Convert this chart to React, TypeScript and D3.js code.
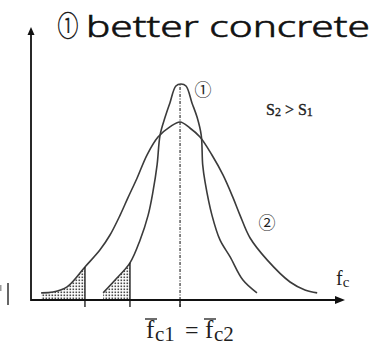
import React from 'react';
import * as d3 from 'd3';

// Concrete strength distributions: curve ① (small spread) and curve ② (large spread)
const curve1Strength = [24.2, 28.2, 33.2, 36.6, 39.3, 40.9, 42.3, 43.3, 45.0, 46.6, 48.6, 50.3, 52.0, 54.0, 55.7, 57.1, 57.6, 58.4, 60.7, 63.4, 66.8, 71.1, 75.8];
const curve1Density = [2.6, 7.3, 13.6, 22.0, 31.1, 39.6, 49.5, 60.4, 67.0, 72.2, 78.4, 79.1, 78.4, 72.2, 67.0, 60.4, 49.5, 43.2, 31.1, 22.0, 15.8, 7.3, 2.6];

const curve2Strength = [3.4, 7.4, 12.1, 18.1, 23.1, 26.5, 29.9, 32.5, 35.6, 38.9, 42.6, 46.6, 50.0, 53.3, 56.7, 60.7, 64.4, 67.8, 70.1, 73.5, 79.2, 86.9, 91.9, 96.0];
const curve2Density = [2.6, 2.9, 4.8, 12.1, 18.3, 23.8, 31.1, 37.4, 44.7, 53.1, 59.7, 63.4, 65.2, 63.0, 59.7, 53.1, 45.8, 37.4, 31.1, 22.7, 14.7, 6.6, 3.7, 2.6];

// characteristic (lower) strengths of each curve and the shared mean strength
const lowerLimit2 = 18.1;
const lowerLimit1 = 33.2;
const meanStrength = 50;

const W = 382;
const H = 348;

const x = d3.scaleLinear().domain([0, 105]).range([31, 344]);
const y = d3.scaleLinear().domain([0, 100]).range([300, 27]);

type Pt = [number, number];
const zip = (xs: number[], ys: number[]): Pt[] => xs.map((v, i) => [v, ys[i]]);

const pts1 = zip(curve1Strength, curve1Density);
const pts2 = zip(curve2Strength, curve2Density);

const line = d3
  .line<Pt>()
  .x((d) => x(d[0]))
  .y((d) => y(d[1]))
  .curve(d3.curveCatmullRom.alpha(0.5));

const area = d3
  .area<Pt>()
  .x((d) => x(d[0]))
  .y0(y(0))
  .y1((d) => y(d[1]))
  .curve(d3.curveCatmullRom.alpha(0.5));

const densityAt = (xs: number[], ys: number[], v: number) => ys[xs.indexOf(v)];

const SERIF = "'Liberation Serif', 'Times New Roman', Times, 'DejaVu Serif', serif";
const CIRCLED = "'Noto Sans CJK JP', 'DejaVu Sans', sans-serif";

export default function App() {
  const axisY = y(0);
  const curveColor = '#3b3b3b';
  const textColor = '#1e1e1e';
  const limits = [
    { v: lowerLimit2, d: densityAt(curve2Strength, curve2Density, lowerLimit2), pts: pts2, id: 'clip2' },
    { v: lowerLimit1, d: densityAt(curve1Strength, curve1Density, lowerLimit1), pts: pts1, id: 'clip1' },
  ];

  return (
    <div style={{ position: 'absolute', left: 0, top: 0 }}>
      <svg width={W} height={H} style={{ display: 'block', background: '#fff' }}>
        <defs>
          <pattern id="stipple" width={3} height={3} patternUnits="userSpaceOnUse">
            <rect width={3} height={3} fill="#fff" />
            <rect x={0.5} y={0.5} width={1.6} height={1.6} fill="#4a4a4a" />
          </pattern>
          {limits.map((l) => (
            <clipPath id={l.id} key={l.id}>
              <rect x={0} y={0} width={x(l.v)} height={axisY} />
            </clipPath>
          ))}
        </defs>

        {/* title */}
        <text x={68} y={37} fontFamily={CIRCLED} fontSize={29} fontWeight={300}
          textAnchor="middle" fill="#111" stroke="#111" strokeWidth={0.5}
          transform="translate(68,0) scale(0.72,1) translate(-68,0)">①</text>
        <text x={86} y={37} fontFamily="'Noto Sans', 'Open Sans', sans-serif" fontWeight={300} fontSize={30}
          fill="#111" stroke="#111" strokeWidth={0.6}
          textLength={284} lengthAdjust="spacingAndGlyphs">better concrete</text>

        {/* stray mark at left edge */}
        <rect x={0} y={285} width={1.5} height={6} fill="#9a9a9a" />
        <line x1={8} x2={8} y1={283} y2={305} stroke="#333" strokeWidth={1.5} />

        {/* shaded tails below the characteristic strengths */}
        {limits.map((l) => (
          <path key={'a' + l.id} d={area(l.pts) || ''} fill="url(#stipple)" clipPath={`url(#${l.id})`} />
        ))}

        {/* mean strength line */}
        <line x1={x(meanStrength)} x2={x(meanStrength)} y1={axisY + 7} y2={y(d3.max(curve1Density) as number)}
          stroke="#333" strokeWidth={1.2} strokeDasharray="3,1.5,1,1.5" />

        {/* distribution curves */}
        <path d={line(pts2) || ''} fill="none" stroke={curveColor} strokeWidth={1.6} />
        <path d={line(pts1) || ''} fill="none" stroke={curveColor} strokeWidth={1.6} />

        {/* limit lines */}
        {limits.map((l) => (
          <line key={'l' + l.id} x1={x(l.v)} x2={x(l.v)} y1={axisY + 7} y2={y(l.d)} stroke="#222" strokeWidth={1.4} />
        ))}
        <line x1={x(meanStrength)} x2={x(meanStrength)} y1={axisY} y2={axisY + 7} stroke="#222" strokeWidth={1.4} />

        {/* axes */}
        <line x1={x(0)} x2={x(105) - 6} y1={axisY} y2={axisY} stroke="#111" strokeWidth={1.8} />
        <polygon points={`${x(105) + 1},${axisY} ${x(105) - 9},${axisY - 4} ${x(105) - 9},${axisY + 4}`} fill="#111" />
        <line x1={x(0)} x2={x(0)} y1={axisY + 0.9} y2={y(100) + 5} stroke="#111" strokeWidth={1.8} />
        <polygon points={`${x(0)},${y(100)} ${x(0) - 3.5},${y(100) + 8} ${x(0) + 3.5},${y(100) + 8}`} fill="#111" />

        {/* curve labels */}
        <text x={203} y={88} fontFamily={CIRCLED} fontSize={17}
          textAnchor="middle" dominantBaseline="central" fill={textColor}>①</text>
        <text x={267} y={221} fontFamily={CIRCLED} fontSize={17}
          textAnchor="middle" dominantBaseline="central" fill={textColor}>②</text>

        <text x={266} y={115} fontFamily={SERIF} fontSize={16} fill={textColor}
          stroke={textColor} strokeWidth={0.35}>
          S<tspan fontSize={12} dy={1}>2</tspan>
          <tspan dy={-1}> &gt; S</tspan>
          <tspan fontSize={12} dy={1}>1</tspan>
        </text>

        {/* axis label */}
        <text x={336} y={285} fontFamily={SERIF} fontSize={20} fill={textColor}>
          f<tspan fontSize={15} dy={2}>c</tspan>
        </text>

        {/* mean strength label */}
        <g fontFamily={SERIF} fill={textColor}>
          <text x={146} y={338} fontSize={25}>f</text>
          <line x1={145} x2={157} y1={319} y2={319} stroke={textColor} strokeWidth={1.3} />
          <text x={155} y={341} fontSize={21}>c1</text>
          <text x={185} y={338} fontSize={24}>=</text>
          <text x={205} y={338} fontSize={25}>f</text>
          <line x1={204} x2={216} y1={319} y2={319} stroke={textColor} strokeWidth={1.3} />
          <text x={214} y={341} fontSize={21}>c2</text>
        </g>
      </svg>
    </div>
  );
}
